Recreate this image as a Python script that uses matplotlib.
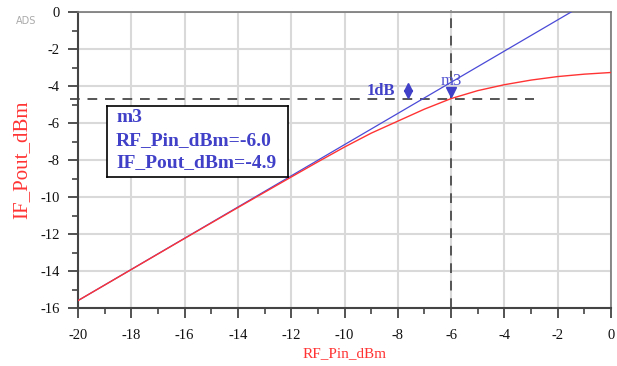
import matplotlib
matplotlib.use("Agg")
import matplotlib.pyplot as plt
from matplotlib.ticker import MultipleLocator

plt.rcParams["axes.unicode_minus"] = False

# Data
pin_red = [-20, -18, -16, -14, -12, -11, -10, -9, -8, -7, -6, -5, -4, -3, -2, -1, 0]
pout_red = [-15.6, -13.92, -12.24, -10.57, -8.92, -8.10, -7.30, -6.55, -5.90, -5.25,
            -4.68, -4.25, -3.93, -3.68, -3.49, -3.36, -3.27]
pin_lin = [-20, 0]
pout_lin = [-15.6, 1.26]
m3_x = -6.0
m3_y = -4.7
m3_labels = ["m3", "RF_Pin_dBm=-6.0", "IF_Pout_dBm=-4.9"]
x_ticks = list(range(-20, 1, 2))
y_ticks = list(range(-16, 1, 2))

fig = plt.figure(figsize=(6.17, 3.66), dpi=100)
ax = fig.add_axes([78/617, 1-308/366, (611-78)/617, (308-12)/366])

ax.set_xlim(-20, 0)
ax.set_ylim(-16, 0)
ax.xaxis.set_minor_locator(MultipleLocator(1))
ax.yaxis.set_minor_locator(MultipleLocator(1))
ax.set_xticks(x_ticks)
ax.set_yticks(y_ticks)
ax.grid(True, which="major", color="#d9d9d9", linewidth=1.5, zorder=0)

serif = "Liberation Serif"
for lab in ax.get_xticklabels() + ax.get_yticklabels():
    lab.set_fontfamily(serif)
    lab.set_fontsize(10.5)
ax.tick_params(axis="both", which="major", direction="out", length=7, width=1.3,
               color="#444444", labelcolor="#111111")
ax.tick_params(axis="both", which="minor", direction="out", length=4, width=1.2,
               color="#444444")
ax.tick_params(axis="x", pad=8)
ax.tick_params(axis="y", pad=6)

for s in ["left", "bottom"]:
    ax.spines[s].set_color("#444444")
    ax.spines[s].set_linewidth(1.5)
for s in ["top", "right"]:
    ax.spines[s].set_color("#777777")
    ax.spines[s].set_linewidth(1.2)

ax.set_xlabel("RF_Pin_dBm", fontfamily=serif, fontsize=11, color="#ff3333", labelpad=4)
ax.set_ylabel("IF_Pout_dBm", fontfamily=serif, fontsize=15, color="#ff3333", labelpad=7)

# dashed marker lines
ax.plot([-20.3, -2.9], [m3_y, m3_y], color="#555555", linewidth=1.4,
        dashes=(5, 4), clip_on=False, zorder=2)
ax.plot([m3_x, m3_x], [-16, 0.1], color="#555555", linewidth=1.4,
        dashes=(5, 4), clip_on=False, zorder=2)

# curves
ax.plot(pin_lin, pout_lin, color="#4a4ad8", linewidth=0.9, zorder=3)
ax.plot(pin_red, pout_red, color="#ff3333", linewidth=1.0, zorder=4)

# marker decorations
ax.text(-8.1, -4.25, "1dB", fontfamily=serif, fontsize=12, fontweight="bold",
        color="#4040c8", ha="right", va="center", zorder=5)
ax.plot([-7.6], [-4.05], marker="^", color="#4040c8", markersize=5.5, zorder=5)
ax.plot([-7.6], [-4.42], marker="v", color="#4040c8", markersize=5.5, zorder=5)
ax.plot([m3_x], [-4.3], marker="v", color="#4040c8", markersize=6.5, zorder=5)
ax.text(m3_x, -4.15, "m3", fontfamily=serif, fontsize=12,
        color="#5050d0", ha="center", va="bottom", zorder=5)

# marker readout box
box_ax = fig.add_axes([107/617, 1-177/366, (288-107)/617, (177-106)/366])
box_ax.set_xticks([])
box_ax.set_yticks([])
for s in box_ax.spines.values():
    s.set_color("black")
    s.set_linewidth(1.2)
box_ax.set_facecolor("white")
for i, t in enumerate(m3_labels):
    box_ax.text(0.05, 0.84 - i * 0.32, t, transform=box_ax.transAxes,
                fontfamily=serif, fontsize=14, fontweight="bold",
                color="#4040c8", ha="left", va="center")

fig.text(16/617, 1-21/366, "ADS", fontsize=7, color="#aaaaaa",
         ha="left", va="center")

fig.savefig("out.png", dpi=100)
